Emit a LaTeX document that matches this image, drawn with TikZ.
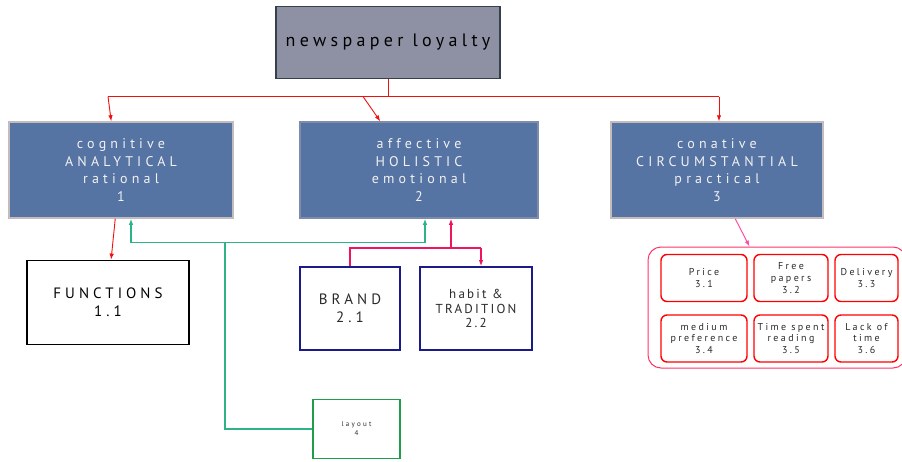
\documentclass[tikz,border=0pt]{standalone}
\usepackage{fontspec}
\setmainfont{PT Sans}
\newfontfamily\spTitle[LetterSpace=24]{PT Sans}
\newfontfamily\spBox[LetterSpace=30]{PT Sans}
\newfontfamily\spWide[LetterSpace=27]{PT Sans}
\newfontfamily\spMid[LetterSpace=17]{PT Sans}
\newfontfamily\spSmall[LetterSpace=24]{PT Sans}
\newfontfamily\spTiny[LetterSpace=32]{PT Sans}
\usetikzlibrary{arrows.meta,calc}

\definecolor{topfill}{HTML}{8E91A3}
\definecolor{topline}{HTML}{34404A}
\definecolor{bluefill}{HTML}{5573A3}
\definecolor{greyline}{HTML}{C4BCBC}
\definecolor{blueline}{HTML}{7F8BAA}
\definecolor{navy}{HTML}{1A1A8A}
\definecolor{redln}{HTML}{F01010}
\definecolor{teal}{HTML}{2DB386}
\definecolor{leaf}{HTML}{1E9E49}
\definecolor{crimson}{HTML}{F0145A}
\definecolor{rose}{HTML}{FF4FA0}
\definecolor{groupln}{HTML}{FF3366}
\definecolor{inkgrey}{HTML}{2A2A2A}

\tikzset{
  box/.style={draw, rectangle, inner sep=0pt, align=center},
  headbox/.style={box, fill=bluefill, line width=1.5pt, text=white!95!black,
    font=\spBox\fontsize{14}{17.6}\selectfont},
  leafbox/.style={box, line width=1.8pt, font=\spWide\fontsize{15}{18.3}\selectfont},
  cell/.style={box, draw=red, line width=1.4pt, rounded corners=6pt,
    text=inkgrey, font=\spSmall\fontsize{10}{11.6}\selectfont,
    minimum height=47pt},
  tip/.style={-{Latex[length=6pt,width=4.5pt]}},
  redarrow/.style={draw=redln, line width=0.9pt},
  tealline/.style={draw=teal, line width=1.2pt},
  crimline/.style={draw=crimson, line width=1.2pt},
}

\begin{document}
\begin{tikzpicture}[x=1pt,y=-1pt]
\useasboundingbox (0,0) rectangle (902,461);
\fill[white] (0,0) rectangle (902,461);

% top concept
\node[box, fill=topfill, draw=topline, line width=1.2pt,
      minimum width=224pt, minimum height=72pt,
      font=\spTitle\fontsize{18}{20}\selectfont, text=black]
  (top) at (388,42.5) {newspaper loyalty};

% the three dimensions
\node[headbox, draw=greyline, minimum width=224pt, minimum height=96pt]
  (cog) at (121,170) {cognitive\\ANALYTICAL\\rational\\1};
\node[headbox, draw=blueline, minimum width=238pt, minimum height=96pt]
  (aff) at (419,170) {affective\\HOLISTIC\\emotional\\2};
\node[headbox, draw=greyline, minimum width=212pt, minimum height=96pt]
  (con) at (717,170) {conative\\CIRCUMSTANTIAL\\practical\\3};

% second level
\node[leafbox, draw=black, text=black, minimum width=162pt, minimum height=84pt]
  (fun) at (108,302.5) {FUNCTIONS\\1.1};
\node[leafbox, draw=navy, text=inkgrey, minimum width=100pt, minimum height=83pt]
  (brand) at (350,308.5) {BRAND\\2.1};
\node[box, draw=navy, line width=1.8pt, text=inkgrey, minimum width=112pt, minimum height=83pt,
      font=\spMid\fontsize{13}{14.3}\selectfont]
  (habit) at (476,308.5) {habit \&\\TRADITION\\2.2};
\node[box, draw=leaf, line width=1.6pt, text=inkgrey, minimum width=87pt, minimum height=59pt,
      font=\spTiny\fontsize{7}{9}\selectfont]
  (layout) at (356.5,429) {layout\\4};

% circumstantial factors
\node[box, draw=groupln, line width=1pt, rounded corners=13pt,
      minimum width=258pt, minimum height=121pt]
  (group) at (777,307.5) {};
\node[cell, minimum width=86pt] (c1) at (704,278) {Price\\3.1};
\node[cell, minimum width=74pt] (c2) at (791,278) {Free\\papers\\3.2};
\node[cell, minimum width=63pt] (c3) at (866.5,278) {Delivery\\3.3};
\node[cell, minimum width=86pt] (c4) at (704,338.5) {medium\\preference\\3.4};
\node[cell, minimum width=74pt] (c5) at (791,338.5) {Time spent\\reading\\3.5};
\node[cell, minimum width=63pt] (c6) at (866.5,338.5) {Lack of\\time\\3.6};

% red tree from the top concept
\path (top.south) ++(0,18) coordinate (hub);
\coordinate (rl) at (108,96.5);
\coordinate (rm) at (363,96.5);
\coordinate (rr) at (719,96.5);
\draw[redarrow] (top.south) -- (hub);
\draw[redarrow] (rl) -- (rr);
\draw[redarrow, tip] (rl) -- ($(cog.north west)+(103,0)$);
\draw[redarrow, tip] (rm) -- ($(aff.north west)+(81,0)$);
\draw[redarrow, tip] (rr) -- (con.north -| rr);
\draw[redarrow, tip] ($(cog.south west)+(107,0)$) -- ($(fun.north west)+(85,0)$);

% teal links
\coordinate (gl) at (131,242.5);
\coordinate (gr) at (425,242.5);
\coordinate (gd) at (225,242.5);
\draw[tealline, tip] (gl) -- (cog.south -| gl);
\draw[tealline] (gl) -- (gr);
\draw[tealline, tip] (gr) -- (aff.south -| gr);
\draw[tealline] (gd) |- (layout.west);

% crimson links
\coordinate (pc) at (451,248);
\coordinate (ph) at (481,248);
\draw[crimline, tip] (pc) -- (aff.south -| pc);
\draw[crimline] (brand.north) |- (ph);
\draw[crimline, tip] (ph) -- (habit.north -| ph);

% conative to its factors
\draw[draw=rose, line width=1pt, tip] ($(con.south west)+(125,0)$) -- ($(group.north west)+(102,0)$);
\end{tikzpicture}
\end{document}
